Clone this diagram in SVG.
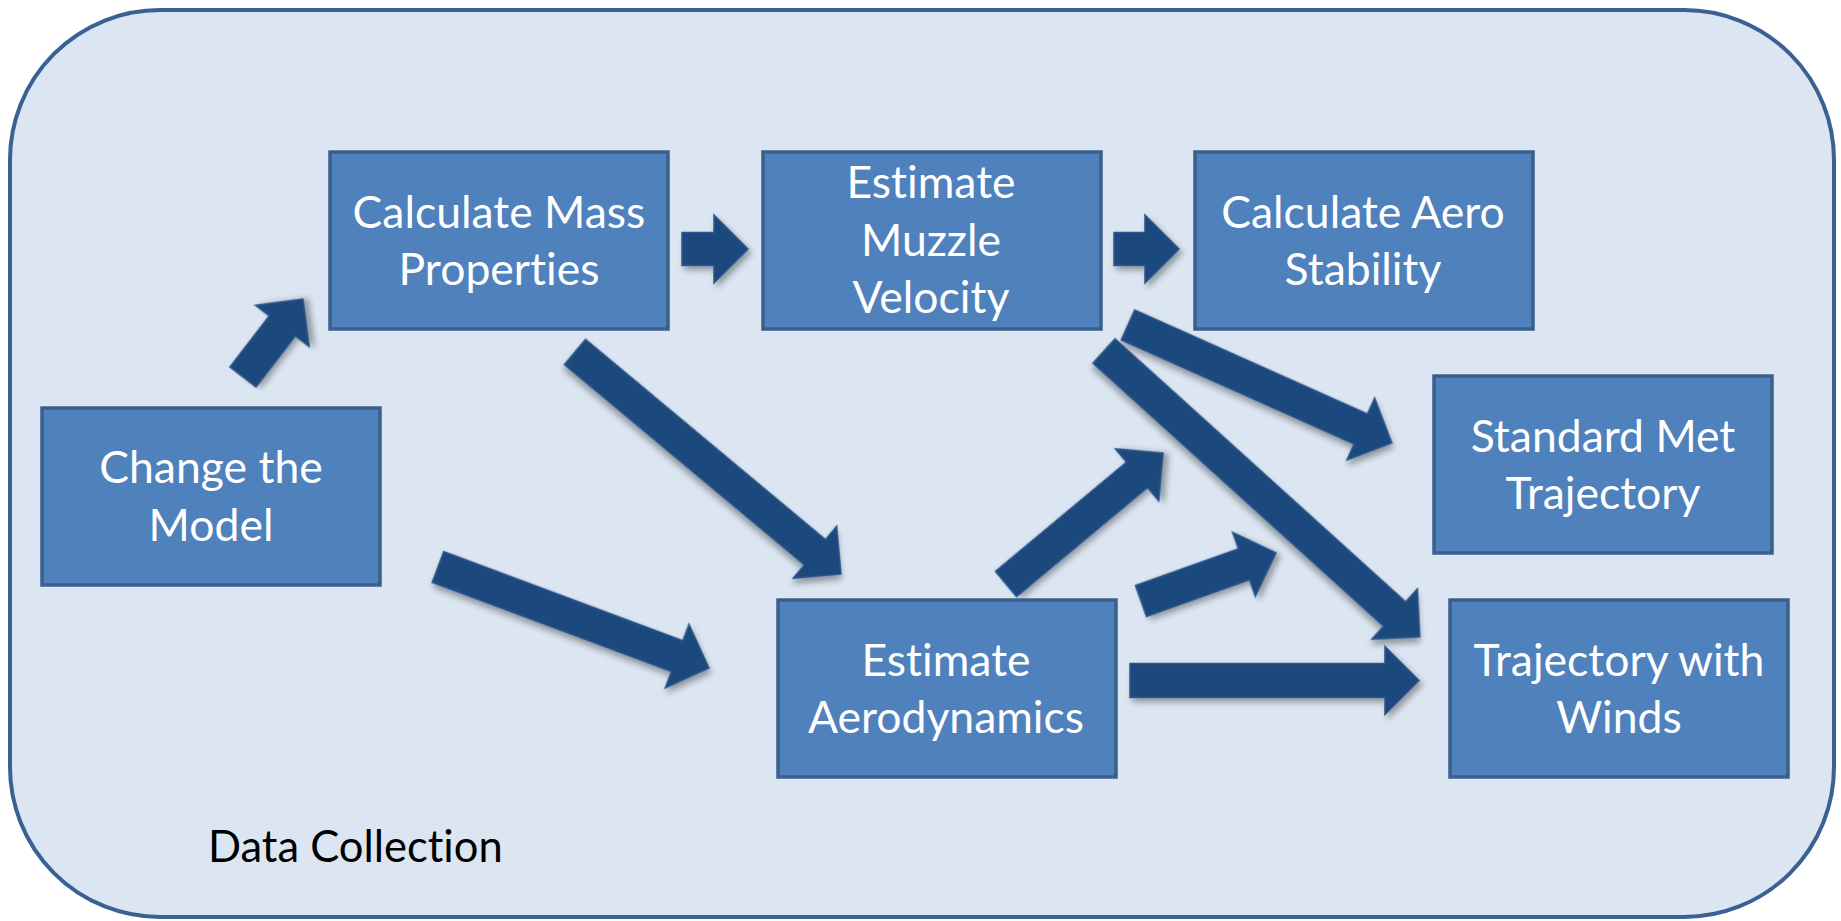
<svg xmlns="http://www.w3.org/2000/svg" width="1841" height="921" viewBox="0 0 1841 921">
<defs>
<style>
.frame{fill:#dce6f2;stroke:#3b6192;stroke-width:4}
.box{fill:#4f81bd;stroke:#3a5f8d;stroke-width:3.5}
.lbl{font-family:Lato,"Liberation Sans",sans-serif;font-size:44.5px;fill:#ffffff;text-anchor:middle;font-variant-ligatures:none}
.cap{font-family:Lato,"Liberation Sans",sans-serif;font-size:43.5px;fill:#000000;font-variant-ligatures:none}
.arr{fill:#1f497d;stroke:#2d5689;stroke-width:1.5;filter:url(#sh)}
</style>
<filter id="sh" x="-20%" y="-20%" width="140%" height="140%">
<feGaussianBlur in="SourceAlpha" stdDeviation="3"/>
<feOffset dx="3" dy="4" result="b"/>
<feComponentTransfer><feFuncA type="linear" slope="0.35"/></feComponentTransfer>
<feMerge><feMergeNode/><feMergeNode in="SourceGraphic"/></feMerge>
</filter>
</defs>
<rect class="frame" x="10" y="10" width="1824" height="907" rx="150" ry="150"/>
<text class="cap" x="208" y="862">Data Collection</text>
<g id="connectors">
<polygon class="arr" transform="translate(243,377) rotate(-52.4)" points="0,-16.5 64.4,-16.5 64.4,-34 98.4,0 64.4,34 64.4,16.5 0,16.5"/>
<polygon class="arr" transform="translate(682,249)" points="0,-16.5 32,-16.5 32,-34 66,0 32,34 32,16.5 0,16.5"/>
<polygon class="arr" transform="translate(1114,249)" points="0,-16.5 31,-16.5 31,-34 65,0 31,34 31,16.5 0,16.5"/>
<polygon class="arr" transform="translate(1128,325) rotate(24.08)" points="0,-16.5 255,-16.5 255,-34 289,0 255,34 255,16.5 0,16.5"/>
<polygon class="arr" transform="translate(1104,351) rotate(42.15)" points="0,-16.5 392,-16.5 392,-34 426,0 392,34 392,16.5 0,16.5"/>
<polygon class="arr" transform="translate(1006,584) rotate(-39.8)" points="0,-16.5 170.5,-16.5 170.5,-34 204.5,0 170.5,34 170.5,16.5 0,16.5"/>
<polygon class="arr" transform="translate(1141,601) rotate(-19.6)" points="0,-16.5 109.3,-16.5 109.3,-34 143.3,0 109.3,34 109.3,16.5 0,16.5"/>
<polygon class="arr" transform="translate(1130,680.5)" points="0,-17 255,-17 255,-34 289,0 255,34 255,17 0,17"/>
<polygon class="arr" transform="translate(575,352) rotate(39.85)" points="0,-16.5 312.5,-16.5 312.5,-34 346.5,0 312.5,34 312.5,16.5 0,16.5"/>
<polygon class="arr" transform="translate(438,567) rotate(20.44)" points="0,-16.5 255.2,-16.5 255.2,-34 289.2,0 255.2,34 255.2,16.5 0,16.5"/>
</g>
<g id="change-model">
<rect class="box" x="42" y="408" width="338" height="177"/>
<text class="lbl" x="211" y="483">Change the</text>
<text class="lbl" x="211" y="541">Model</text>
</g>
<g id="mass-properties">
<rect class="box" x="330" y="152" width="338" height="177"/>
<text class="lbl" x="499" y="228">Calculate Mass</text>
<text class="lbl" x="499" y="285">Properties</text>
</g>
<g id="muzzle-velocity">
<rect class="box" x="763" y="152" width="338" height="177"/>
<text class="lbl" x="931" y="198">Estimate</text>
<text class="lbl" x="931" y="256">Muzzle</text>
<text class="lbl" x="931" y="313">Velocity</text>
</g>
<g id="aero-stability">
<rect class="box" x="1195" y="152" width="338" height="177"/>
<text class="lbl" x="1363" y="228">Calculate Aero</text>
<text class="lbl" x="1363" y="285">Stability</text>
</g>
<g id="standard-met">
<rect class="box" x="1434" y="376" width="338" height="177"/>
<text class="lbl" x="1603" y="452">Standard Met</text>
<text class="lbl" x="1603" y="509">Trajectory</text>
</g>
<g id="aerodynamics">
<rect class="box" x="778" y="600" width="338" height="177"/>
<text class="lbl" x="946" y="676">Estimate</text>
<text class="lbl" x="946" y="733">Aerodynamics</text>
</g>
<g id="traj-winds">
<rect class="box" x="1450" y="600" width="338" height="177"/>
<text class="lbl" x="1619" y="676">Trajectory with</text>
<text class="lbl" x="1619" y="733">Winds</text>
</g>
</svg>
